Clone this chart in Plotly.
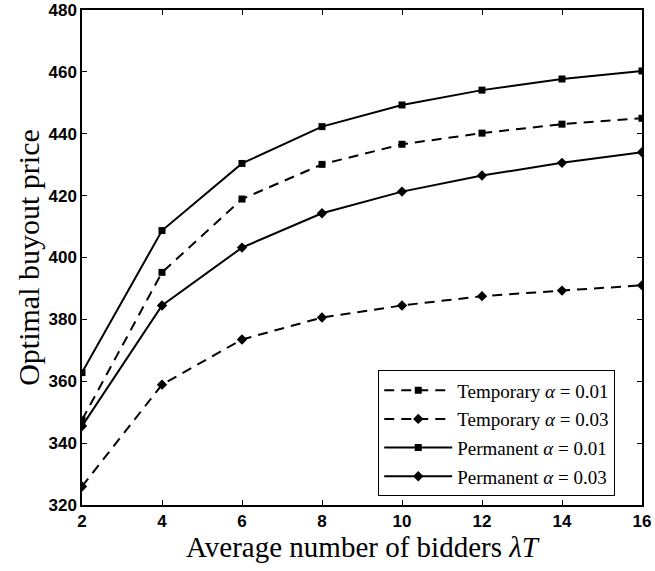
import plotly.graph_objects as go

x_bidders = [2, 4, 6, 8, 10, 12, 14, 16]
temp_001 = [347.5, 395.2, 418.9, 430.1, 436.6, 440.2, 443.1, 445.0]
temp_003 = [326.0, 358.9, 373.5, 380.6, 384.5, 387.5, 389.3, 391.0]
perm_001 = [362.8, 408.7, 430.4, 442.3, 449.3, 454.1, 457.7, 460.3]
perm_003 = [345.5, 384.5, 403.2, 414.3, 421.3, 426.5, 430.6, 434.0]

x_ticks = [2, 4, 6, 8, 10, 12, 14, 16]
y_ticks = [320, 340, 360, 380, 400, 420, 440, 460, 480]

series = [
    ("Temporary <i>α</i> = 0.01", temp_001, "10px,7px", "square", 7),
    ("Temporary <i>α</i> = 0.03", temp_003, "10px,7px", "diamond", 8),
    ("Permanent <i>α</i> = 0.01", perm_001, "solid", "square", 7),
    ("Permanent <i>α</i> = 0.03", perm_003, "solid", "diamond", 8),
]

fig = go.Figure()
for i, (name, ys, dash, sym, sz) in enumerate(series):
    fig.add_trace(go.Scatter(
        x=x_bidders, y=ys, name=name, mode="lines+markers",
        legendgroup=f"g{i}",
        line=dict(color="black", width=2, dash=dash),
        marker=dict(symbol=sym, size=sz, color="black"),
    ))

axis_common = dict(
    showgrid=False, zeroline=False, showline=True, linecolor="black", linewidth=1.5,
    mirror="allticks", ticks="inside", ticklen=5, tickcolor="black", tickwidth=1,
    tickfont=dict(family="Liberation Sans", size=17, color="black", weight="bold"),
    automargin=False, ticklabeloverflow="allow",
)

fig.update_layout(
    template="none",
    width=655, height=571,
    margin=dict(l=82, r=13, t=10, b=66),
    paper_bgcolor="white", plot_bgcolor="white",
    xaxis=dict(range=[2, 16], tickvals=x_ticks,
               title=dict(text="Average number of bidders <i>λT</i>",
                          font=dict(family="Liberation Serif", size=29, color="black"),
                          standoff=0),
               **axis_common),
    yaxis=dict(range=[320, 480], tickvals=y_ticks,
               title=dict(text="Optimal buyout price",
                          font=dict(family="Liberation Serif", size=30, color="black"),
                          standoff=0),
               **axis_common),
    legend=dict(
        x=0.529, y=0.272, xanchor="left", yanchor="top",
        bgcolor="white", bordercolor="black", borderwidth=1,
        font=dict(family="Liberation Serif", size=19, color="black"),
        tracegroupgap=1, itemwidth=68,
    ),
    showlegend=True,
)

fig.write_html("out.html", config={"displayModeBar": False},
               post_script="document.body.style.margin='0';")
